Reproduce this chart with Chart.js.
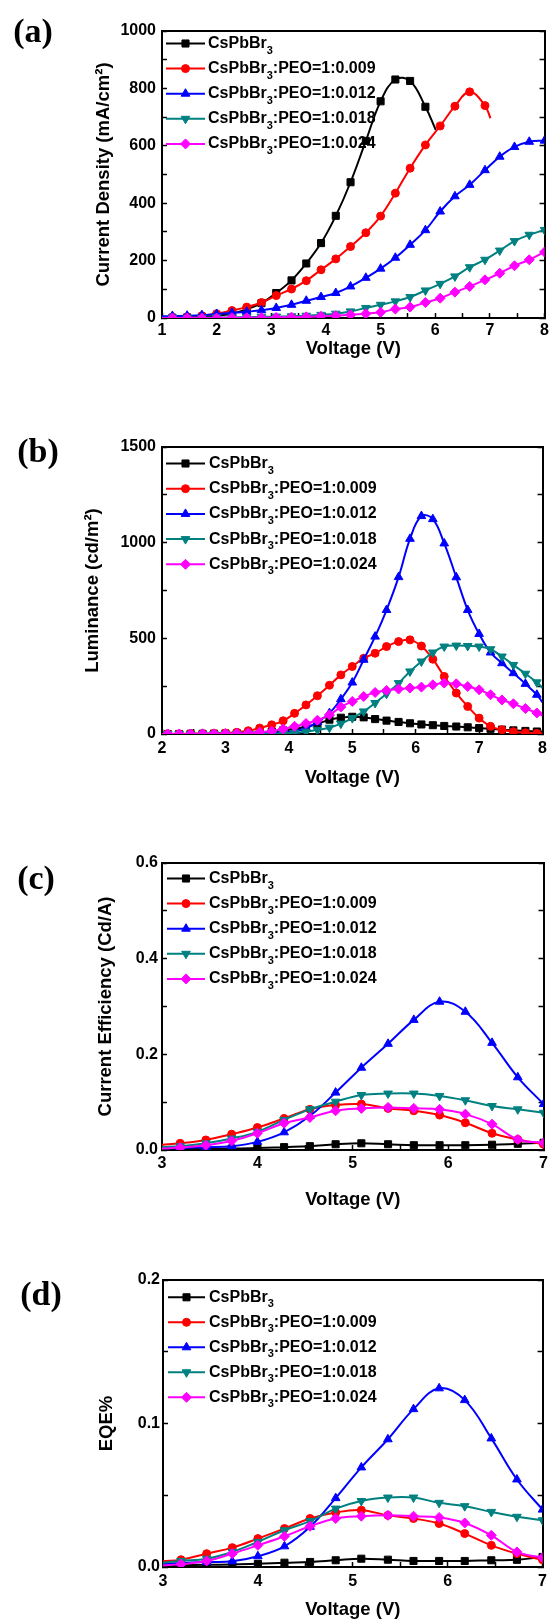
<!DOCTYPE html>
<html>
<head>
<meta charset="utf-8">
<script src="https://cdn.jsdelivr.net/npm/chart.js@4.4.1/dist/chart.umd.min.js"></script>
<style>
  html, body { margin: 0; padding: 0; background: #fff; }
  #page { position: relative; width: 557px; height: 1624px; overflow: hidden; }
  .panel { position: absolute; left: 0; width: 557px; }
  .tag { position: absolute; font: bold 34px 'Liberation Serif', 'Times New Roman', serif; transform: translate(-50%, -50%); line-height: 1; }
</style>
</head>
<body>
<div id="page">
  <div class="panel" style="top:0;height:395px"><canvas id="chartA"></canvas></div>
  <div class="panel" style="top:395px;height:400px"><canvas id="chartB"></canvas></div>
  <div class="panel" style="top:795px;height:430px"><canvas id="chartC"></canvas></div>
  <div class="panel" style="top:1225px;height:399px"><canvas id="chartD"></canvas></div>
  <div class="tag" style="left:33px;top:31px">(a)</div>
  <div class="tag" style="left:38px;top:451px">(b)</div>
  <div class="tag" style="left:36px;top:878px">(c)</div>
  <div class="tag" style="left:41px;top:1294px">(d)</div>
</div>
<script>
// --- series names / styles ---
const seriesNames = ['CsPbBr3', 'CsPbBr3:PEO=1:0.009', 'CsPbBr3:PEO=1:0.012', 'CsPbBr3:PEO=1:0.018', 'CsPbBr3:PEO=1:0.024'];
const colors = ['#000000', '#ff0000', '#0000ff', '#008080', '#ff00ff'];
const markers = ['rect', 'circle', 'triangle', 'triangle', 'rectRot'];
const rotations = [0, 0, 0, 180, 0];
const radii = [5, 4, 5, 5, 5];

// --- (a) current density vs voltage ---
const voltA = [1.19, 1.46, 1.73, 2.00, 2.28, 2.55, 2.82, 3.09, 3.37, 3.64, 3.91, 4.18, 4.45, 4.73, 5.00, 5.27, 5.54, 5.82, 6.09, 6.36, 6.63, 6.91, 7.18, 7.45, 7.72, 8.00];
const curBlack = [1, 2, 4, 8, 16, 30, 52, 87, 131, 190, 261, 356, 473, 617, 755, 831, 826, 736, null, null, null, null, null, null, null, null];
const curRed = [2, 4, 8, 15, 26, 38, 54, 78, 101, 130, 168, 206, 249, 297, 355, 435, 522, 603, 669, 738, 788, 740, null, null, null, null];
const curBlue = [7, 8, 10, 14, 18, 22, 27, 35, 46, 60, 73, 87, 110, 140, 172, 210, 255, 306, 371, 424, 464, 515, 562, 596, 614, 618];
const curTeal = [1, 1, 1, 2, 2, 3, 4, 5, 6, 8, 11, 15, 23, 35, 46, 58, 73, 96, 119, 145, 177, 203, 235, 268, 290, 307];
const curMagenta = [0, 0, 0, 0, 1, 1, 1, 2, 3, 4, 6, 8, 11, 15, 20, 31, 38, 54, 69, 90, 110, 133, 156, 182, 203, 230];
const curStart = [0, 1, 6, 1, 0];                       // value at 1 V (line leaves the axis)
const curEnd = [[6.01, 655], [7.01, 696], null, null, null];

// --- (b) luminance vs voltage ---
const voltB = [2.09, 2.27, 2.45, 2.64, 2.82, 3.00, 3.18, 3.36, 3.54, 3.73, 3.91, 4.09, 4.27, 4.45, 4.64, 4.82, 5.00, 5.18, 5.36, 5.54, 5.73, 5.91, 6.09, 6.27, 6.45, 6.64, 6.82, 7.00, 7.18, 7.36, 7.54, 7.73, 7.91];
const lumBlack = [0, 0, 1, 1, 2, 3, 4, 6, 9, 13, 19, 27, 38, 52, 75, 85, 90, 87, 78, 70, 63, 56, 50, 46, 42, 39, 35, 31, 27, 23, 19, 16, 13];
const lumRed = [1, 1, 2, 2, 3, 5, 9, 17, 31, 48, 69, 108, 152, 200, 255, 309, 353, 396, 422, 457, 483, 492, 460, 391, 301, 214, 144, 83, 40, 22, 12, 6, 3];
const lumBlue = [0, 0, 0, 0, 0, 0, 1, 1, 2, 4, 8, 15, 30, 62, 109, 182, 269, 388, 509, 648, 820, 1020, 1139, 1123, 996, 819, 648, 523, 426, 370, 318, 262, 205];
const lumTeal = [0, 0, 0, 0, 0, 0, 0, 1, 1, 2, 3, 6, 12, 22, 33, 54, 83, 118, 162, 210, 266, 327, 379, 426, 457, 462, 460, 457, 443, 405, 361, 315, 270];
const lumMagenta = [0, 0, 0, 1, 1, 2, 3, 5, 9, 15, 26, 40, 55, 72, 100, 141, 170, 196, 217, 228, 235, 240, 245, 257, 266, 262, 248, 231, 205, 178, 158, 133, 110];
const lumStart = [0, 0, 0, 0, 0];
const lumEnd = [[8, 12], [8, 2], [8, 165], [8, 240], [8, 95]];

// --- (c) current efficiency, (d) EQE vs voltage ---
const voltCD = [3.19, 3.46, 3.73, 4.00, 4.28, 4.55, 4.82, 5.09, 5.37, 5.64, 5.91, 6.18, 6.46, 6.73, 7.00];
const ceBlack = [0.002, 0.002, 0.003, 0.004, 0.006, 0.008, 0.012, 0.014, 0.012, 0.010, 0.010, 0.010, 0.011, 0.013, 0.015];
const ceRed = [0.014, 0.021, 0.033, 0.047, 0.066, 0.085, 0.094, 0.096, 0.087, 0.082, 0.073, 0.057, 0.035, 0.022, 0.012];
const ceBlue = [0.004, 0.006, 0.008, 0.017, 0.037, 0.071, 0.120, 0.172, 0.222, 0.272, 0.310, 0.289, 0.224, 0.152, 0.096];
const ceTeal = [0.008, 0.014, 0.024, 0.038, 0.063, 0.085, 0.101, 0.115, 0.118, 0.118, 0.113, 0.104, 0.092, 0.085, 0.078];
const ceMagenta = [0.005, 0.010, 0.019, 0.035, 0.056, 0.068, 0.082, 0.087, 0.089, 0.087, 0.085, 0.075, 0.054, 0.022, 0.015];
const ceStart = [0.001, 0.011, 0.004, 0.006, 0.003];

const eqeBlack = [0.0012, 0.0015, 0.0018, 0.0022, 0.003, 0.0035, 0.0047, 0.0058, 0.0051, 0.0042, 0.0042, 0.0042, 0.0047, 0.005, 0.007];
const eqeRed = [0.0051, 0.0093, 0.0135, 0.0198, 0.0268, 0.0338, 0.038, 0.0396, 0.036, 0.0338, 0.0303, 0.0233, 0.0151, 0.0093, 0.005];
const eqeBlue = [0.0028, 0.0035, 0.004, 0.0075, 0.0144, 0.028, 0.048, 0.0694, 0.089, 0.110, 0.1245, 0.1163, 0.0896, 0.061, 0.040];
const eqeTeal = [0.0042, 0.0058, 0.0105, 0.0175, 0.0256, 0.032, 0.0407, 0.046, 0.0484, 0.0484, 0.0447, 0.0424, 0.0384, 0.035, 0.0326];
const eqeMagenta = [0.002, 0.0042, 0.0093, 0.0151, 0.0214, 0.0284, 0.0338, 0.0354, 0.036, 0.0354, 0.0345, 0.0307, 0.0221, 0.0105, 0.0065];
const eqeStart = [0.001, 0.004, 0.002, 0.003, 0.001];

Chart.defaults.font.family = "'Liberation Sans', Arial, sans-serif";
Chart.defaults.font.weight = 'bold';
Chart.defaults.font.size = 16;
Chart.defaults.color = '#000';

// points with m=true get a marker, the start/end points only carry the line
function makeData(volt, vals, x0, y0, end) {
    const pts = [{ x: x0, y: y0, m: false }];
    volt.forEach((v, i) => {
        if (vals[i] !== null) pts.push({ x: v, y: vals[i], m: true });
    });
    if (end) pts.push({ x: end[0], y: end[1], m: false });
    return pts;
}

function makeDatasets(volt, series, x0, starts, ends) {
    return series.map((vals, i) => ({
        label: seriesNames[i],
        data: makeData(volt, vals, x0, starts[i], ends ? ends[i] : null),
        xAxisID: 'x',
        yAxisID: 'y',
        borderColor: colors[i],
        backgroundColor: colors[i],
        pointBackgroundColor: colors[i],
        pointBorderColor: colors[i],
        borderWidth: 2,
        tension: 0.4,
        pointStyle: markers[i],
        pointRotation: rotations[i],
        pointRadius: ctx => (ctx.raw && ctx.raw.m ? radii[i] : 0),
        pointBorderWidth: 1,
        pointHoverRadius: 0,
        order: 4 - i
    }));
}

// legend: line + marker sample, subscript 3 in the name
const sampleLegend = {
    id: 'sampleLegend',
    afterDraw(chart, args, opts) {
        const ctx = chart.ctx;
        ctx.save();
        chart.data.datasets.forEach((ds, i) => {
            const y = opts.top + i * opts.gap;
            ctx.strokeStyle = colors[i];
            ctx.fillStyle = colors[i];
            ctx.lineWidth = 2;
            ctx.beginPath();
            ctx.moveTo(opts.x1, y);
            ctx.lineTo(opts.x2, y);
            ctx.stroke();
            ctx.lineWidth = 1;
            Chart.helpers.drawPoint(ctx, { pointStyle: markers[i], rotation: rotations[i], radius: radii[i], borderWidth: 1 }, (opts.x1 + opts.x2) / 2, y);

            const k = ds.label.indexOf('3');
            const head = ds.label.slice(0, k);
            const rest = ds.label.slice(k + 1);
            ctx.fillStyle = '#000';
            ctx.textAlign = 'left';
            ctx.textBaseline = 'middle';
            ctx.font = "bold 16px 'Liberation Sans', Arial, sans-serif";
            let x = opts.tx;
            ctx.fillText(head, x, y);
            x += ctx.measureText(head).width;
            ctx.font = "bold 11px 'Liberation Sans', Arial, sans-serif";
            ctx.fillText('3', x, y + 7);
            x += ctx.measureText('3').width;
            ctx.font = "bold 16px 'Liberation Sans', Arial, sans-serif";
            ctx.fillText(rest, x, y);
        });
        ctx.restore();
    }
};

function makeScales(c) {
    const tick = { autoSkip: false, maxRotation: 0, color: '#000', font: { size: 16, weight: 'bold' } };
    const grid = { drawOnChartArea: false, tickLength: -5, tickColor: '#000', tickWidth: 1.5 };
    const border = { color: '#000', width: 2 };
    const titleFont = { size: 18.5, weight: 'bold' };
    return {
        x: {
            type: 'linear', position: 'bottom', min: c.xMin, max: c.xMax,
            ticks: { ...tick, stepSize: 0.5, padding: c.xPad, callback: v => (Number.isInteger(v) ? String(v) : '') },
            grid, border,
            title: { display: true, text: 'Voltage (V)', color: '#000', font: titleFont, padding: { top: 0, bottom: c.xTitlePad } },
            afterFit: s => { s.height = c.bottomH; }
        },
        xTop: {
            type: 'linear', position: 'top', min: c.xMin, max: c.xMax,
            ticks: { display: false, stepSize: 0.5 },
            grid: { drawOnChartArea: false, drawTicks: false }, border,
            afterFit: s => { s.height = c.topH; }
        },
        y: {
            type: 'linear', position: 'left', min: c.yMin, max: c.yMax,
            ticks: { ...tick, stepSize: c.yStep, padding: c.yPad, callback: c.yLabel },
            grid, border,
            title: { display: true, text: c.yTitle, color: '#000', font: titleFont, padding: { top: c.yTitlePad, bottom: 0 } },
            afterFit: s => { s.width = c.leftW; }
        },
        yRight: {
            type: 'linear', position: 'right', min: c.yMin, max: c.yMax,
            ticks: { display: false, stepSize: c.yStep },
            grid, border,
            afterFit: s => { s.width = 557 - c.rightX; }
        }
    };
}

function drawPanel(id, datasets, c) {
    new Chart(document.getElementById(id), {
        type: 'line',
        data: { datasets },
        options: {
            responsive: true,
            maintainAspectRatio: false,
            animation: false,
            events: [],
            layout: { padding: 0 },
            plugins: {
                legend: { display: false },
                tooltip: { enabled: false },
                sampleLegend: c.legend
            },
            scales: makeScales(c)
        },
        plugins: [sampleLegend]
    });
}

drawPanel('chartA', makeDatasets(voltA, [curBlack, curRed, curBlue, curTeal, curMagenta], 1, curStart, curEnd), {
    xMin: 1, xMax: 8, yMin: 0, yMax: 1000, yStep: 100,
    yLabel: v => (v % 200 === 0 ? String(v) : ''),
    yTitle: 'Current Density (mA/cm²)',
    topH: 31, bottomH: 395 - 318, leftW: 162, rightX: 550,
    xPad: 8, xTitlePad: 35, yPad: 11, yTitlePad: 93,
    legend: { top: 43.5, gap: 25.1, x1: 166, x2: 205, tx: 208 }
});

drawPanel('chartB', makeDatasets(voltB, [lumBlack, lumRed, lumBlue, lumTeal, lumMagenta], 2, lumStart, lumEnd), {
    xMin: 2, xMax: 8, yMin: 0, yMax: 1500, yStep: 250,
    yLabel: v => (v % 500 === 0 ? String(v) : ''),
    yTitle: 'Luminance (cd/m²)',
    topH: 52, bottomH: 400 - 339, leftW: 162, rightX: 550,
    xPad: 10, xTitlePad: 6, yPad: 11, yTitlePad: 82,
    legend: { top: 68.5, gap: 25.2, x1: 166, x2: 205, tx: 209 }
});

drawPanel('chartC', makeDatasets(voltCD, [ceBlack, ceRed, ceBlue, ceTeal, ceMagenta], 3, ceStart, null), {
    xMin: 3, xMax: 7, yMin: 0, yMax: 0.6, yStep: 0.1,
    yLabel: v => (Math.round(v * 10) % 2 === 0 ? v.toFixed(1) : ''),
    yTitle: 'Current Efficiency (Cd/A)',
    topH: 68, bottomH: 430 - 355, leftW: 162, rightX: 550,
    xPad: 9, xTitlePad: 14, yPad: 9, yTitlePad: 95,
    legend: { top: 83.5, gap: 25.1, x1: 167, x2: 205, tx: 209 }
});

drawPanel('chartD', makeDatasets(voltCD, [eqeBlack, eqeRed, eqeBlue, eqeTeal, eqeMagenta], 3, eqeStart, null), {
    xMin: 3, xMax: 7, yMin: 0, yMax: 0.2, yStep: 0.05,
    yLabel: v => (Math.round(v * 20) % 2 === 0 ? v.toFixed(1) : ''),
    yTitle: 'EQE%',
    topH: 55, bottomH: 399 - 342, leftW: 163, rightX: 550,
    xPad: 10, xTitlePad: 3, yPad: 8, yTitlePad: 96,
    legend: { top: 72.3, gap: 25, x1: 168, x2: 205, tx: 209 }
});
</script>
</body>
</html>
